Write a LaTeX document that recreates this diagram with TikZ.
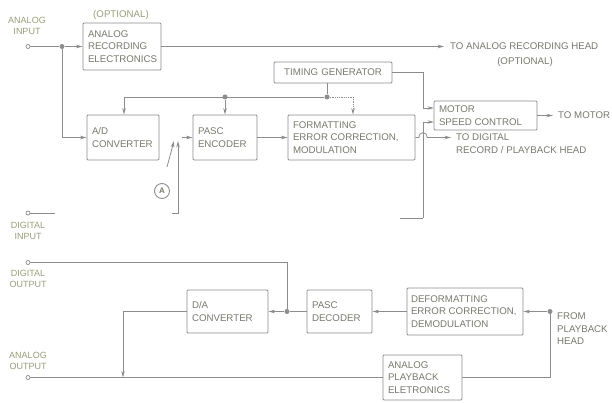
\documentclass[tikz,border=0pt]{standalone}
\usepackage{fontspec}
\setmainfont{Liberation Sans}
\usetikzlibrary{arrows.meta}
\definecolor{ln}{RGB}{140,140,140}
\definecolor{tx}{RGB}{120,120,110}
\definecolor{lb}{RGB}{150,158,120}
\begin{document}
\begin{tikzpicture}[x=1pt,y=-1pt,
  blk/.style={draw=ln, line width=0.9pt, rounded corners=1pt, inner xsep=5pt, inner ysep=0pt,
    text=tx, align=flush left, font=\fontsize{9.7}{12.5}\selectfont},
  lbl/.style={text=lb, align=center, font=\fontsize{9}{11.5}\selectfont},
  rlbl/.style={text=tx, align=left, font=\fontsize{9.7}{12.5}\selectfont, inner sep=0pt},
  term/.style={circle, draw=ln, line width=0.7pt, inner sep=0pt, minimum size=4pt, fill=white},
  dotn/.style={circle, fill=ln, inner sep=0pt, minimum size=5pt},
  ln/.style={draw=ln, line width=0.8pt},
  arr/.style={ln, -{Stealth[length=6.5pt,width=3.5pt]}},
]
\useasboundingbox (0,0) rectangle (612,403);

% ---------- blocks ----------
\node[blk, minimum width=78, minimum height=47, text width=68] (are) at (122,46.5) {ANALOG\\RECORDING\\ELECTRONICS};
\node[blk, minimum width=72, minimum height=45, text width=62] (ad) at (123,137.5) {A/D\\CONVERTER};
\node[blk, minimum width=64, minimum height=45, text width=54] (pe) at (225,137.5) {PASC\\ENCODER};
\node[blk, minimum width=127, minimum height=45, text width=117] (fmt) at (351.5,137.5) {FORMATTING\\ERROR CORRECTION,\\MODULATION};
\node[blk, minimum width=118, minimum height=21, text width=108, align=center] (tg) at (333,72.5) {TIMING GENERATOR};
\node[blk, minimum width=103, minimum height=29, text width=93] (msc) at (485.5,115.5) {MOTOR\\SPEED CONTROL};
\node[blk, minimum width=81, minimum height=43, text width=71] (da) at (227.5,311.5) {D/A\\CONVERTER};
\node[blk, minimum width=65, minimum height=43, text width=55] (pd) at (339.5,311.5) {PASC\\DECODER};
\node[blk, minimum width=116, minimum height=47, inner xsep=4pt, text width=108] (df) at (465,311.5) {DEFORMATTING\\ERROR CORRECTION,\\DEMODULATION};
\node[blk, minimum width=79, minimum height=45, text width=69] (ape) at (422.5,377.5) {ANALOG\\PLAYBACK\\ELETRONICS};

% ---------- labels ----------
\node[lbl] (lain) at (27,26) {ANALOG\\INPUT};
\node[rlbl, text=lb, align=center] (lopt) at (121,15) {(OPTIONAL)};
\node[rlbl, anchor=west] (larh) at (450,46.5) {TO ANALOG RECORDING HEAD};
\node[rlbl] (lopt2) at (525,62) {(OPTIONAL)};
\node[rlbl, anchor=west] (lmot) at (558,115.5) {TO MOTOR};
\node[rlbl, anchor=north west] (ldig) at (456,134) {TO DIGITAL\\RECORD / PLAYBACK HEAD};
\node[lbl] (ldin) at (28,231) {DIGITAL\\INPUT};
\node[lbl] (ldout) at (28,279) {DIGITAL\\OUTPUT};
\node[lbl] (laout) at (28,361) {ANALOG\\OUTPUT};
\node[rlbl, anchor=north west] (lfph) at (557,313) {FROM\\PLAYBACK\\HEAD};
\node[circle, draw=ln, line width=0.9pt, minimum size=15pt, inner sep=0pt, text=tx,
  font=\fontsize{8}{8}\selectfont\bfseries] (A) at (162,191) {A};

% ---------- terminals, dots, coordinates ----------
\node[term] (ain) at (28,46.5) {};
\node[dotn] (d1) at (62,46.5) {};
\coordinate (arh) at (444,46.5);
\coordinate (bl) at (124,97);
\node[dotn] (dpe) at (225,97) {};
\node[dotn] (dtg) at (327,97) {};
\coordinate (fin) at (353,97);
\coordinate (tgr) at (423,72.5);
\coordinate (m1) at (434,108);
\coordinate (m2) at (434,122);
\coordinate (vb0) at (400,218);
\coordinate (vb) at (423,218);
\coordinate (h1) at (419,137.5);
\coordinate (h2) at (427,137.5);
\coordinate (tdig) at (451,137.5);
\coordinate (tmot) at (553,115.5);
\coordinate (pin) at (182,137.5);
\coordinate (sw0) at (172,213);
\coordinate (sw1) at (178,213);
\coordinate (sw2) at (178,141);
\coordinate (bl0) at (167,167);
\coordinate (bl1) at (174,141);
\node[term] (din) at (28,213) {};
\coordinate (dinE) at (55,213);
\node[term] (dout) at (28,262.5) {};
\node[dotn] (d2) at (287,311.5) {};
\node[dotn] (d3) at (550,311.5) {};
\coordinate (dl) at (123,311.5);
\node[term] (aout) at (28,377.5) {};

% ---------- connectors: record side ----------
\draw[ln] (ain) -- (d1);
\draw[arr] (d1) -- (are.west);
\draw[arr] (d1) |- (ad.west);
\draw[arr] (are.east) -- (arh);
\draw[ln] (tg.south -| dtg) -- (dtg);
\draw[ln] (dtg) -- (bl);
\draw[arr] (bl) -- (ad.north -| bl);
\draw[arr] (dpe) -- (pe.north);
\draw[arr, densely dotted] (dtg) -- (fin) -- (fin |- fmt.north);
\draw[arr] (tg.east) -- (tgr) |- (m1);
\draw[ln] (vb0) -- (vb);
\draw[arr] (vb) |- (m2);
\draw[ln] (fmt.east) -- (h1) .. controls (419,131) and (427,131) .. (h2);
\draw[arr] (h2) -- (tdig);
\draw[arr] (msc.east) -- (tmot);
\draw[arr] (pe.east) -- (fmt.west);
\draw[arr] (pin) -- (pe.west);
\draw[arr] (sw0) -- (sw1) -- (sw2);
\draw[arr] (bl0) -- (bl1);
\draw[ln] (din) -- (dinE);

% ---------- connectors: playback side ----------
\draw[ln] (dout) -| (d2);
\draw[ln] (pd.west) -- (d2);
\draw[arr] (d2) -- (da.east);
\draw[arr] (df.west) -- (pd.east);
\draw[arr] (d3) -- (df.east);
\draw[ln] (d3) |- (ape.east);
\draw[ln] (ape.west) -- (aout);
\draw[arr] (da.west) -- (dl) -- (dl |- aout);
\end{tikzpicture}
\end{document}
